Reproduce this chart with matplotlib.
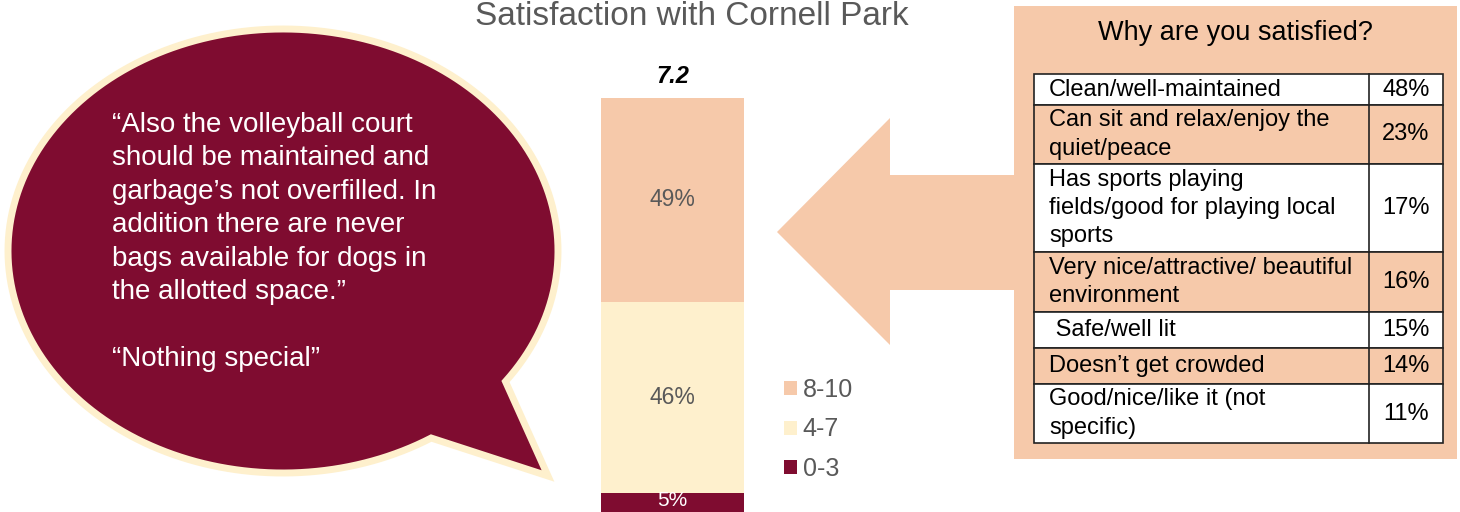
import numpy as np
import matplotlib.pyplot as plt
from matplotlib.patches import Polygon, Rectangle, Patch

# satisfaction score groups (bottom to top)
groups = ['0-3', '4-7', '8-10']
shares = [5, 46, 49]
mean_score = 7.2

# why satisfied table
reasons = ['Clean/well-maintained',
           'Can sit and relax/enjoy the\nquiet/peace',
           'Has sports playing\nfields/good for playing local\nsports',
           'Very nice/attractive/ beautiful\nenvironment',
           ' Safe/well lit',
           'Doesn\u2019t get crowded',
           'Good/nice/like it (not\nspecific)']
reason_pct = [48, 23, 17, 16, 15, 14, 11]

quote = ('\u201cAlso the volleyball court\nshould be maintained and\n'
         'garbage\u2019s not overfilled. In\naddition there are never\n'
         'bags available for dogs in\nthe allotted space.\u201d\n\n'
         '\u201cNothing special\u201d')

maroon = '#7F0C30'
cream = '#FEF0CD'
peach = '#F6C9AA'
gray = '#595959'
colors = [maroon, cream, peach]

plt.rcParams['font.family'] = ['Liberation Sans', 'DejaVu Sans']

W, H = 1460, 512
fig = plt.figure(figsize=(W / 100, H / 100), dpi=100)

# background layer in pixel coordinates
bg = fig.add_axes([0, 0, 1, 1])
bg.set_xlim(0, W)
bg.set_ylim(H, 0)
bg.axis('off')

# speech bubble: ellipse with tail
cx, cy, a, b = 283, 251, 275, 222
t = np.radians(np.linspace(57.4, 396, 200))
pts = list(zip(cx + a * np.cos(t), cy + b * np.sin(t)))
pts.append((548, 476))
bg.add_patch(Polygon(pts, closed=True, facecolor=maroon, edgecolor=cream,
                     linewidth=5, joinstyle='miter'))
bg.text(112, 112, quote, color='white', fontsize=20, va='top', ha='left',
        linespacing=1.37)

# arrow pointing at the bar
arrow = [(777, 232), (890, 118), (890, 175), (1016, 175), (1016, 290),
         (890, 290), (890, 345)]
bg.add_patch(Polygon(arrow, closed=True, facecolor=peach, edgecolor='none'))

# table box
bg.add_patch(Rectangle((1014, 6), 443, 453, facecolor=peach, edgecolor='none'))
bg.text(1235, 33, 'Why are you satisfied?', fontsize=19.5, ha='center',
        va='center', color='black')
row_edges = [74, 105, 164, 252, 312, 348, 384, 443]
x0, xs, x1 = 1034, 1369, 1443
for i, (lab, pct) in enumerate(zip(reasons, reason_pct)):
    top, bot = row_edges[i], row_edges[i + 1]
    fc = 'white' if i % 2 == 0 else peach
    bg.add_patch(Rectangle((x0, top), x1 - x0, bot - top, facecolor=fc,
                           edgecolor='#222222', linewidth=1.2))
    bg.plot([xs, xs], [top, bot], color='#222222', linewidth=1.2)
    bg.text(x0 + 15, (top + bot) / 2, lab, fontsize=17, va='center',
            ha='left', linespacing=1.37)
    bg.text(1406, (top + bot) / 2, f'{pct}%', fontsize=17, va='center',
            ha='center')

fig.text(692 / W, 1 - 25 / H, 'Satisfaction with Cornell Park', fontsize=24,
         color=gray, ha='center', va='baseline')

# stacked bar
ax = fig.add_axes([601 / W, -2 / H, 143 / W, 416 / H])
ax.set_xlim(-0.5, 0.5)
ax.set_ylim(0, 100)
ax.axis('off')
bottom = 0
for g, s, c in zip(groups, shares, colors):
    ax.bar(0, s, width=1, bottom=bottom, color=c, label=g)
    small = s < 10
    ax.annotate(f'{s}%', xy=(0, bottom + s / 2),
                xytext=(0, 3 if small else 0), textcoords='offset pixels',
                ha='center', va='center', fontsize=15 if small else 16.5,
                color='white' if c == maroon else gray, annotation_clip=False)
    bottom += s
ax.annotate(f'{mean_score}', xy=(0, 100), xytext=(0, 10),
            textcoords='offset pixels', ha='center', va='bottom', fontsize=17,
            fontweight='bold', fontstyle='italic', annotation_clip=False)

handles = [Patch(facecolor=c) for c in colors[::-1]]
fig.legend(handles, groups[::-1], loc='upper left',
           bbox_to_anchor=(784 / W, 1 - 378 / H), frameon=False,
           fontsize=18, labelcolor=gray, handlelength=0.5, handleheight=0.5,
           handletextpad=0.25, labelspacing=0.62, borderpad=0,
           borderaxespad=0)

fig.savefig('out.png', dpi=100)
